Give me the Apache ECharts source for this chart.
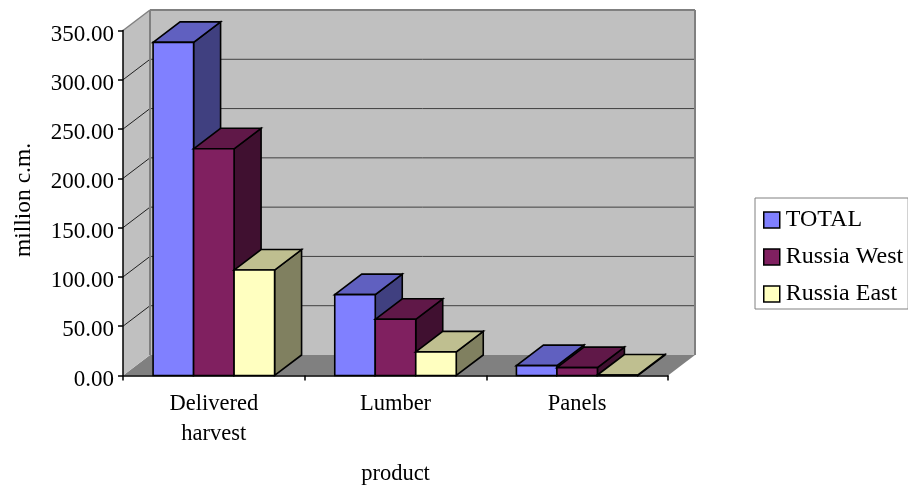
<!DOCTYPE html>
<html>
<head>
<meta charset="utf-8">
<style>html,body{margin:0;padding:0;background:#fff}#chart{width:908px;height:489px}</style>
<script src="https://cdn.jsdelivr.net/npm/echarts@6/dist/echarts.min.js"></script>
</head>
<body>
<div id="chart"></div>
<script>
const categories = ['Delivered\nharvest', 'Lumber', 'Panels'];
const total = [338, 82, 10];
const russiaWest = [230, 57, 8];
const russiaEast = [107, 24, 0.5];
const gridValues = [0, 50, 100, 150, 200, 250, 300, 350];

// Oblique projection of the chart depth, in pixels
const DX = 27, DY = -20.5;
const BAR_W = 40.5;
const FONT = '"Liberation Serif", serif';

function poly(points, fill, stroke, lineWidth) {
  return {
    type: 'polygon',
    shape: { points: points },
    style: { fill: fill, stroke: stroke || 'none', lineWidth: lineWidth || 0, lineJoin: 'miter' }
  };
}
function seg(a, b, stroke, lineWidth) {
  return {
    type: 'line',
    shape: { x1: a[0], y1: a[1], x2: b[0], y2: b[1] },
    style: { stroke: stroke, lineWidth: lineWidth }
  };
}

// Floor, side wall, back wall and their gridlines
function renderWalls(params, api) {
  const c = params.coordSys;
  const x0 = c.x, x1 = c.x + c.width;
  const yBase = api.coord([0, 0])[1];
  const yTop = api.coord([0, 350])[1];
  const kids = [
    poly([[x0, yBase], [x0 + DX, yBase + DY], [x1 + DX, yBase + DY], [x1, yBase]], '#808080'),
    poly([[x0, yTop], [x0 + DX, yTop + DY], [x0 + DX, yBase + DY], [x0, yBase]], '#c0c0c0'),
    poly([[x0 + DX, yTop + DY], [x1 + DX, yTop + DY], [x1 + DX, yBase + DY], [x0 + DX, yBase + DY]], '#c0c0c0')
  ];
  gridValues.slice(1, -1).forEach(function (v) {
    const y = api.coord([0, v])[1];
    kids.push(seg([x0, y], [x0 + DX, y + DY], '#202020', 1));
    kids.push(seg([x0 + DX, y + DY], [x1 + DX, y + DY], '#404040', 1));
  });
  kids.push(seg([x0, yTop], [x0 + DX, yTop + DY], '#808080', 1.5));
  kids.push(seg([x0 + DX, yTop + DY], [x1 + DX, yTop + DY], '#808080', 2));
  kids.push(seg([x0 + DX, yTop + DY], [x0 + DX, yBase + DY], '#808080', 2));
  kids.push(seg([x1 + DX, yTop + DY], [x1 + DX, yBase + DY], '#808080', 2));
  return { type: 'group', children: kids };
}

// One extruded bar: front, top and right faces
function barRenderer(slot, front, top, side) {
  return function (params, api) {
    const base = api.coord([api.value(0), 0]);
    const head = api.coord([api.value(0), api.value(1)]);
    const xl = base[0] + (slot - 1.5) * BAR_W;
    const xr = xl + BAR_W;
    const yb = base[1], yt = head[1];
    const line = '#000';
    return {
      type: 'group',
      children: [
        poly([[xr, yt], [xr + DX, yt + DY], [xr + DX, yb + DY], [xr, yb]], side, line, 1.6),
        poly([[xl, yt], [xl + DX, yt + DY], [xr + DX, yt + DY], [xr, yt]], top, line, 1.6),
        poly([[xl, yt], [xr, yt], [xr, yb], [xl, yb]], front, line, 1.6)
      ]
    };
  };
}

function barSeries(name, values, slot, front, topFace, side) {
  return {
    name: name,
    type: 'custom',
    z: 2,
    itemStyle: { color: front },
    encode: { x: 0, y: 1 },
    data: values.map(function (v, i) { return [i, v]; }),
    renderItem: barRenderer(slot, front, topFace, side)
  };
}

const chart = echarts.init(document.getElementById('chart'), null, { renderer: 'canvas' });
const xFont = { color: '#000', fontFamily: FONT, fontSize: 22.5 };
const yFont = { color: '#000', fontFamily: FONT, fontSize: 23 };
chart.setOption({
  animation: false,
  backgroundColor: '#fff',
  textStyle: { fontFamily: FONT },
  grid: { left: 123, top: 30.5, width: 545, height: 345, containLabel: false, outerBoundsMode: 'none' },
  legend: {
    left: 755,
    top: 198,
    orient: 'vertical',
    icon: 'rect',
    itemWidth: 16,
    itemHeight: 16,
    itemGap: 13,
    padding: [10, 5, 3, 8],
    borderColor: '#808080',
    borderWidth: 1,
    backgroundColor: '#fff',
    textStyle: { color: '#000', fontFamily: FONT, fontSize: 24, padding: [0, 0, 0, 1] },
    itemStyle: { borderColor: '#000', borderWidth: 1.5 },
    data: ['TOTAL', 'Russia West', 'Russia East']
  },
  xAxis: {
    type: 'category',
    data: categories,
    name: 'product',
    nameLocation: 'middle',
    nameGap: 87,
    nameTextStyle: xFont,
    axisLine: { lineStyle: { color: '#000', width: 1.5 } },
    axisTick: { show: true, length: 5, alignWithLabel: false, lineStyle: { color: '#000', width: 1.5 } },
    axisLabel: Object.assign({ margin: 14, lineHeight: 30, interval: 0 }, xFont),
    z: 3
  },
  yAxis: {
    type: 'value',
    min: 0,
    max: 350,
    interval: 50,
    name: 'million c.m.',
    nameLocation: 'middle',
    nameGap: 87,
    nameTextStyle: { color: '#000', fontFamily: FONT, fontSize: 23.5, padding: [0, 0, 0, 6] },
    axisLine: { show: true, lineStyle: { color: '#000', width: 1.5 } },
    axisTick: { show: true, length: 5, lineStyle: { color: '#000', width: 1.5 } },
    splitLine: { show: false },
    axisLabel: Object.assign({
      margin: 9,
      verticalAlign: 'top',
      lineHeight: 8,
      formatter: function (v) { return v.toFixed(2); }
    }, yFont),
    z: 3
  },
  series: [
    {
      name: 'walls',
      type: 'custom',
      z: 1,
      silent: true,
      encode: { x: 0, y: 1 },
      data: [[0, 0]],
      renderItem: renderWalls
    },
    barSeries('TOTAL', total, 0, '#8080ff', '#6060c0', '#404080'),
    barSeries('Russia West', russiaWest, 1, '#802060', '#601848', '#401030'),
    barSeries('Russia East', russiaEast, 2, '#ffffc0', '#bfbf90', '#808060')
  ]
});
</script>
</body>
</html>
